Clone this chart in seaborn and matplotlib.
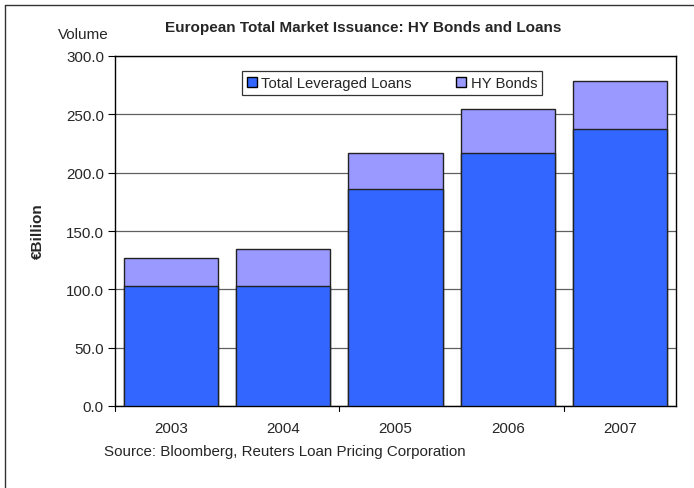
import matplotlib
matplotlib.use("Agg")
import matplotlib.pyplot as plt
import pandas as pd
import seaborn as sns
from matplotlib.lines import Line2D
from matplotlib.patches import Patch

years = ["2003", "2004", "2005", "2006", "2007"]
leveraged_loans = [102.5, 102.5, 186.0, 217.0, 237.5]
hy_bonds = [24.5, 32.5, 31.0, 37.5, 41.0]

loan_color = "#3366FF"
hy_color = "#9999FF"

df = pd.DataFrame({"Year": years, "Loans": leveraged_loans, "HY": hy_bonds})
df["Total"] = df["Loans"] + df["HY"]

sns.set_theme(style="white")
plt.rcParams["font.family"] = ["Liberation Sans", "DejaVu Sans"]

fig = plt.figure(figsize=(6.94, 4.89), dpi=100)
ax = fig.add_axes([115 / 694, 1 - 407 / 489, 561 / 694, 350 / 489])

# stacked bars: draw totals first, loans on top
sns.barplot(data=df, x="Year", y="Total", color=hy_color, saturation=1,
            width=0.84, edgecolor="#222222", linewidth=1.0, ax=ax, zorder=3)
sns.barplot(data=df, x="Year", y="Loans", color=loan_color, saturation=1,
            width=0.84, edgecolor="#222222", linewidth=1.0, ax=ax, zorder=4)

ax.set_ylim(0, 300)
ax.set_xlim(-0.5, 4.5)
ax.set_yticks(range(0, 301, 50))
ax.set_yticklabels([f"{v:.1f}" for v in range(0, 301, 50)], fontsize=10.9)
ax.tick_params(axis="y", direction="out", length=5, width=0.8, color="black",
               left=True, pad=3)
ax.tick_params(axis="x", length=0, labelsize=10.9, pad=11)
ax.yaxis.grid(True, color="#606060", linewidth=0.9, zorder=0)
ax.set_axisbelow(True)
for s in ax.spines.values():
    s.set_color("black")
    s.set_linewidth(1.0)
    s.set_visible(True)
ax.set_xlabel("")
ax.set_ylabel("€Billion", fontsize=11, fontweight="bold")
ax.yaxis.set_label_coords((45 - 115) / 561, (407 - 231) / 350)

# excel style category tick marks every two categories
for xb in [-0.5, 1.5, 3.5]:
    ax.plot([xb, xb], [0, -4], color="black", lw=0.8, clip_on=False,
            transform=ax.transData)

handles = [Patch(facecolor=loan_color, edgecolor="black", linewidth=1.0),
           Patch(facecolor=hy_color, edgecolor="black", linewidth=1.0)]
leg = ax.legend(handles, ["Total Leveraged Loans", "HY Bonds"], ncol=2,
                loc="upper left", bbox_to_anchor=((242 - 115) / 561, (407 - 72) / 350),
                frameon=True, fancybox=False, fontsize=10.7, handlelength=0.65,
                handleheight=0.65, handletextpad=0.3, columnspacing=3.0,
                borderpad=0.35, borderaxespad=0)
leg.get_frame().set_edgecolor("black")
leg.get_frame().set_linewidth(0.9)

fig.text(363 / 694, 1 - 28 / 489, "European Total Market Issuance: HY Bonds and Loans",
         ha="center", va="center", fontsize=11, fontweight="bold")
fig.text(83 / 694, 1 - 35 / 489, "Volume", ha="center", va="center", fontsize=11)
fig.text(104 / 694, 1 - 452 / 489, "Source: Bloomberg, Reuters Loan Pricing Corporation",
         ha="left", va="center", fontsize=10.9)

# outer chart border (clipped at right and bottom like the screenshot)
fig.add_artist(Line2D([5 / 694, 1.0], [1 - 6 / 489, 1 - 6 / 489], color="#333333", lw=1.0))
fig.add_artist(Line2D([5 / 694, 5 / 694], [0.0, 1 - 6 / 489], color="#333333", lw=1.0))

fig.savefig("out.png", dpi=100)
